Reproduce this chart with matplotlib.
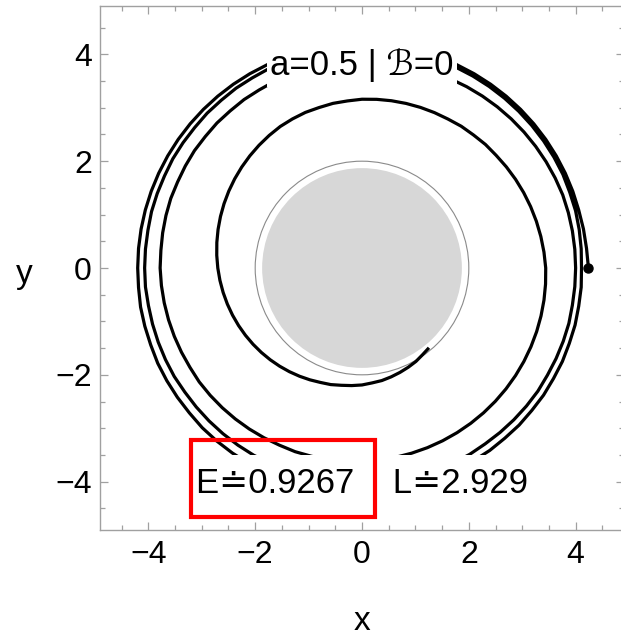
import numpy as np
import matplotlib.pyplot as plt
from matplotlib.patches import Circle, Rectangle

# orbit radius, one value every 5 degrees of azimuth
# (counter-clockwise, starting at the dot on the right), one row = 60 degrees
r_loop1 = [4.24, 4.22, 4.21, 4.20, 4.20, 4.20, 4.20, 4.20, 4.20, 4.20, 4.20, 4.20,
           4.20, 4.20, 4.20, 4.20, 4.20, 4.20, 4.20, 4.20, 4.20, 4.20, 4.20, 4.20,
           4.20, 4.20, 4.20, 4.20, 4.20, 4.20, 4.20, 4.20, 4.20, 4.20, 4.20, 4.20,
           4.20, 4.20, 4.21, 4.21, 4.21, 4.22, 4.22, 4.22, 4.22, 4.23, 4.23, 4.23,
           4.23, 4.23, 4.22, 4.22, 4.22, 4.21, 4.21, 4.20, 4.20, 4.19, 4.19, 4.18,
           4.17, 4.17, 4.16, 4.16, 4.15, 4.15, 4.14, 4.14, 4.13, 4.13, 4.12, 4.12]
r_loop2 = [4.11, 4.12, 4.13, 4.14, 4.14, 4.15, 4.15, 4.15, 4.15, 4.15, 4.15, 4.15,
           4.15, 4.15, 4.14, 4.14, 4.14, 4.14, 4.13, 4.13, 4.13, 4.12, 4.12, 4.12,
           4.11, 4.11, 4.10, 4.10, 4.09, 4.09, 4.09, 4.08, 4.08, 4.08, 4.07, 4.07,
           4.07, 4.07, 4.06, 4.06, 4.06, 4.06, 4.06, 4.05, 4.05, 4.05, 4.05, 4.05,
           4.05, 4.04, 4.04, 4.04, 4.04, 4.04, 4.04, 4.03, 4.03, 4.03, 4.03, 4.03,
           4.03, 4.02, 4.02, 4.02, 4.02, 4.02, 4.01, 4.01, 4.01, 4.01, 4.00, 4.00]
r_loop3 = [4.00, 4.00, 4.00, 4.00, 4.00, 3.99, 3.98, 3.97, 3.96, 3.95, 3.94, 3.93,
           3.92, 3.91, 3.90, 3.89, 3.89, 3.88, 3.88, 3.87, 3.87, 3.87, 3.86, 3.86,
           3.85, 3.85, 3.84, 3.84, 3.83, 3.83, 3.82, 3.81, 3.81, 3.80, 3.79, 3.78,
           3.78, 3.77, 3.76, 3.75, 3.74, 3.73, 3.72, 3.72, 3.71, 3.70, 3.69, 3.68,
           3.67, 3.66, 3.66, 3.65, 3.64, 3.63, 3.62, 3.61, 3.60, 3.59, 3.58, 3.57,
           3.56, 3.55, 3.54, 3.53, 3.52, 3.51, 3.50, 3.49, 3.48, 3.47, 3.46, 3.45]
r_loop4 = [3.44, 3.42, 3.40, 3.38, 3.36, 3.34, 3.32, 3.30, 3.28, 3.27, 3.25, 3.24,
           3.22, 3.21, 3.20, 3.19, 3.18, 3.17, 3.16, 3.14, 3.13, 3.11, 3.10, 3.08,
           3.06, 3.03, 3.00, 2.97, 2.94, 2.91, 2.88, 2.85, 2.82, 2.79, 2.76, 2.73,
           2.70, 2.67, 2.64, 2.61, 2.58, 2.55, 2.52, 2.49, 2.46, 2.43, 2.40, 2.37,
           2.34, 2.31, 2.28, 2.26, 2.23, 2.21, 2.19, 2.16, 2.14, 2.11, 2.08, 2.05,
           2.02, 1.98, 1.95]
dphi = 5  # degrees between samples

r_horizon = 1.87
r_ergo = 2.0

spin = 0.5
energy = 0.9267
ang_mom = 2.929

# -----------------------------------------------------------------------------
r = np.array(r_loop1 + r_loop2 + r_loop3 + r_loop4)
phi = np.radians(dphi * np.arange(len(r)))
x = r * np.cos(phi)
y = r * np.sin(phi)

plt.rcParams['font.family'] = ['Liberation Sans', 'DejaVu Sans']

W, H = 621, 637
lim = 4.9

fig = plt.figure(figsize=(W / 100, H / 100), dpi=100)
ax = fig.add_axes([100.3 / W, 107.3 / H, 523.4 / W, 523.4 / H])
ax.set_xlim(-lim, lim)
ax.set_ylim(-lim, lim)

ax.add_patch(Circle((0, 0), r_horizon, facecolor='#d7d7d7', edgecolor='none', zorder=1))
ax.add_patch(Circle((0, 0), r_ergo, facecolor='none', edgecolor='#8a8a8a', lw=0.8, zorder=1))

ax.plot(x, y, color='k', lw=2.3, solid_capstyle='butt', solid_joinstyle='round', zorder=2)
ax.plot(x[0], y[0], 'o', color='k', ms=6.5, zorder=2)

t_top = ax.text(0, 3.61, 'a=%s | \u212c=0' % spin, fontsize=25, ha='center',
                va='baseline', zorder=4)
t_bot = ax.text(0, -4.205, 'E\u2250%s    L\u2250%s' % (energy, ang_mom), fontsize=25,
                ha='center', va='baseline', zorder=4)


# white background behind the labels (more room above than at the sides)
def white_box(t, padx=3, ptop=12, pbot=5):
    bb = t.get_window_extent(renderer=fig.canvas.get_renderer())
    inv = ax.transData.inverted()
    (x0, y0), (x1, y1) = inv.transform([(bb.x0 - padx, bb.y0 - pbot), (bb.x1 + padx, bb.y1 + ptop)])
    ax.add_patch(Rectangle((x0, y0), x1 - x0, y1 - y0, facecolor='white', edgecolor='none',
                           zorder=3))


white_box(t_top)
white_box(t_bot)

# red highlight box round the energy
ax.add_patch(Rectangle((-3.2, -4.66), 3.44, 1.44, facecolor='none', edgecolor='#ff0000',
                       lw=3.0, zorder=5, clip_on=False))

frame = '#a0a0a0'
for s in ax.spines.values():
    s.set_color(frame)
    s.set_linewidth(1.0)
ax.set_xticks([-4, -2, 0, 2, 4])
ax.set_yticks([-4, -2, 0, 2, 4])
ax.set_xticks(np.arange(-4.5, 5, 0.5), minor=True)
ax.set_yticks(np.arange(-4.5, 5, 0.5), minor=True)
ax.tick_params(which='both', direction='in', top=True, right=True, color=frame, width=0.9,
               labelsize=23, labelcolor='k')
ax.tick_params(which='major', length=5.8)
ax.tick_params(which='minor', length=3.6)
ax.tick_params(axis='x', pad=7.5)
ax.tick_params(axis='y', pad=6)

fig.text(362 / W, 1 - 630 / H, 'x', fontsize=24, ha='center', va='baseline')
fig.text(24 / W, 1 - 282.6 / H, 'y', fontsize=24, ha='center', va='baseline')

fig.savefig('out.png', dpi=100)
